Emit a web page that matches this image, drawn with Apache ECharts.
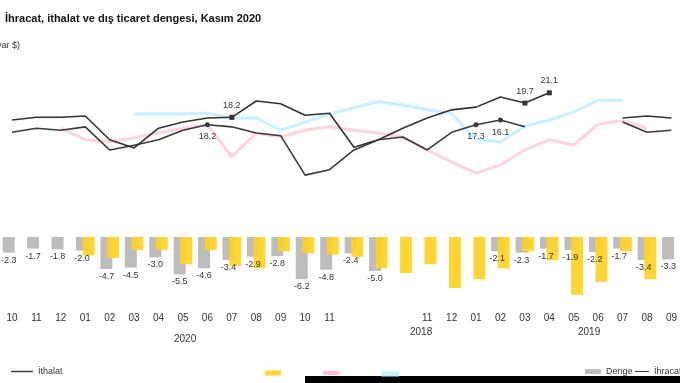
<!DOCTYPE html>
<html><head><meta charset="utf-8">
<script src="https://cdn.jsdelivr.net/npm/echarts@6/dist/echarts.min.js"></script>
<style>html,body{margin:0;padding:0;background:#fff}#c{width:680px;height:383px}</style>
</head><body><div id="c"></div>
<script>
// Category slots as they appear left to right
var months = ['10','11','12','01','02','03','04','05','06','07','08','09','10','11','','','','11','12','01','02','03','04','05','06','07','08','09'];
var yearLabels = ['2020','2018','2019'];
// İhracat (black, markers)
var ihracat = [17.2,17.6,17.6,17.8,14.3,13.1,16.0,16.9,17.5,17.6,20.0,19.6,17.9,18.2,13.2,14.3,16.0,17.5,18.7,19.1,20.6,19.7,21.2,null,null,17.5,17.8,17.5];
var ihracatLbl = ['','','','','','','','','','18.2','','','','','','','','','','','','19.7','21.1','','','','',''];
// İthalat (dark line)
var ithalat = [15.4,16.0,15.7,16.2,12.8,13.5,14.3,15.7,16.5,16.2,15.3,14.9,9.1,9.9,12.8,14.3,14.7,12.8,15.4,16.5,17.2,16.2,null,null,null,16.9,15.4,15.7];
var ithalatLbl = ['','','','','','','','','18.2','','','','','','','','','','','17.3','16.1','','','','','','',''];
// light cyan line
var cyanLine = [null,null,null,null,null,18.1,18.1,18.1,18.2,17.5,17.5,15.7,16.9,18.1,19.0,19.9,19.4,18.7,18.2,14.3,14.0,16.3,17.2,18.4,20.1,20.1,null,null];
var cyanLbl = ['','','','','','','','','','','','','','','','','','','','','','','','','20.','18.3','',''];
// light pink line
var pinkLine = [null,null,16.0,14.3,14.0,14.6,15.3,16.0,16.5,11.8,15.3,14.7,15.7,16.2,15.7,15.3,14.7,12.8,11.0,9.4,10.6,12.8,14.3,13.5,16.6,17.1,16.0,null];
var pinkLbl = ['','','','','','','','','','','','','','','','','','','','','','','','15','18.4','','',''];
// Denge (grey bars)
var denge = [-2.3,-1.7,-1.8,-2.0,-4.7,-4.5,-3.0,-5.5,-4.6,-3.4,-2.9,-2.8,-6.2,-4.8,-2.4,-5.0,null,null,null,null,-2.1,-2.3,-1.7,-1.9,-2.2,-1.7,-3.4,-3.3];
// yellow bars
var sariDenge = [null,null,null,-2.7,-3.1,-1.9,-1.9,-4.0,-1.9,-4.3,-4.6,-2.1,-2.4,-2.6,-2.9,-4.6,-5.3,-4.0,-7.5,-6.2,-4.6,-2.1,-3.4,-8.5,-6.6,-2.1,-6.2,null];

var chart = echarts.init(document.getElementById('c'));
function lblFn(arr){return function(p){return arr[p.dataIndex]||'';};}
var hid = {color:'rgba(0,0,0,0)'};
chart.setOption({
  animation:false,
  title:{text:'İhracat, ithalat ve dış ticaret dengesi, Kasım 2020',left:0,top:8,
    textStyle:{fontSize:11,fontWeight:'bold',color:'#111',fontFamily:'Liberation Sans'}},
  grid:{left:12,right:6.5,top:46.6,bottom:78},
  xAxis:{type:'category',data:months,boundaryGap:false,
    axisLine:{show:false},axisTick:{show:false},
    axisLabel:{interval:0,margin:8,fontSize:10,color:'#333',fontFamily:'Liberation Sans'}},
  yAxis:{type:'value',min:-10,max:28,show:false,splitLine:{show:false}},
  legend:[
    {data:[{name:'İthalat',icon:'path://M0,4h30v2h-30z'}],left:6,top:362,itemWidth:22,itemHeight:6,textStyle:{fontSize:9,color:'#333'}},
    {data:[{name:'Dış ticaret dengesi (sarı)',icon:'rect'}],left:260,top:362,itemWidth:16,itemHeight:5,textStyle:hid},
    {data:[{name:'İthalat (önceki)',icon:'rect'}],left:318,top:362,itemWidth:16,itemHeight:4,textStyle:hid},
    {data:[{name:'İhracat (önceki)',icon:'rect'}],left:376,top:363,itemWidth:18,itemHeight:5,textStyle:hid},
    {data:[{name:'Denge',icon:'rect'}],left:580,top:362,itemWidth:16,itemHeight:5,itemGap:4,textStyle:{fontSize:9,color:'#333'}},
    {data:[{name:'İhracat',icon:'path://M0,4h30v2h-30z'}],left:630,top:362,itemWidth:14,itemHeight:5,textStyle:{fontSize:9,color:'#333'}}
  ],
  graphic:[
    {type:'text',right:660,top:41,style:{text:'(Milyar $)',fontSize:9,fill:'#333',textAlign:'right',fontFamily:'Liberation Sans'}},
    {type:'text',left:174,top:334,style:{text:yearLabels[0],fontSize:10,fill:'#333',fontFamily:'Liberation Sans'}},
    {type:'text',left:410,top:327,style:{text:yearLabels[1],fontSize:10,fill:'#333',fontFamily:'Liberation Sans'}},
    {type:'text',left:578,top:327,style:{text:yearLabels[2],fontSize:10,fill:'#333',fontFamily:'Liberation Sans'}},
    {type:'rect',shape:{x:305,y:376,width:375,height:7},style:{fill:'#000'}}
  ],
  series:[
    {name:'Denge',type:'bar',data:denge,barWidth:12,barGap:'-45%',itemStyle:{color:'#bdbdbd'},
      label:{show:true,position:'bottom',distance:3,fontSize:9,color:'#333',formatter:function(p){return p.value==null?'':p.value.toFixed(1);}}},
    {name:'Dış ticaret dengesi (sarı)',type:'bar',data:sariDenge,barWidth:12,itemStyle:{color:'#ffd21f',opacity:0.9}},
    {name:'İhracat (önceki)',type:'line',data:cyanLine,symbol:'none',lineStyle:{color:'#c6f1ff',width:3},itemStyle:{color:'#c6f1ff'},
      label:{show:true,formatter:lblFn(cyanLbl),fontSize:9,color:'#333',position:'top'}},
    {name:'İthalat (önceki)',type:'line',data:pinkLine,symbol:'none',lineStyle:{color:'#ffd3dc',width:3},itemStyle:{color:'#ffc0cc'},
      label:{show:true,formatter:lblFn(pinkLbl),fontSize:9,color:'#333',position:'bottom'}},
    {name:'İthalat',type:'line',data:ithalat,symbol:'circle',symbolSize:function(v,p){return ithalatLbl[p.dataIndex]?5:0;},
      lineStyle:{color:'#3a3a3a',width:1.6},itemStyle:{color:'#3a3a3a'},
      label:{show:true,formatter:lblFn(ithalatLbl),fontSize:9,color:'#333',position:'bottom'}},
    {name:'İhracat',type:'line',data:ihracat,symbol:'rect',symbolSize:function(v,p){return ihracatLbl[p.dataIndex]?5:0;},
      lineStyle:{color:'#333',width:1.6},itemStyle:{color:'#333'},
      label:{show:true,formatter:lblFn(ihracatLbl),fontSize:9,color:'#333',position:'top'}}
  ]
});
</script></body></html>
